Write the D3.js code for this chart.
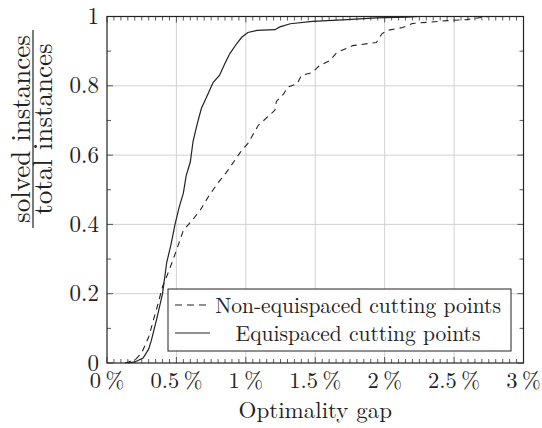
<!DOCTYPE html>
<html>
<head>
<meta charset="utf-8">
<script src="https://cdn.jsdelivr.net/npm/d3@7"></script>
<style>
  html, body { margin: 0; padding: 0; background: #fff; }
  svg { display: block; font-family: 'Latin Modern Roman', 'Liberation Serif', serif; }
  svg text { font-family: 'Latin Modern Roman', 'Liberation Serif', serif; }
</style>
</head>
<body>
<div id="chart"></div>
<script>
// ---- data ----
const xTickValues = [0, 0.5, 1, 1.5, 2, 2.5, 3];
const xTickLabels = ["0\u2009%", "0.5\u2009%", "1\u2009%", "1.5\u2009%", "2\u2009%", "2.5\u2009%", "3\u2009%"];
const yTickValues = [0, 0.2, 0.4, 0.6, 0.8, 1];
const yTickLabels = ["0", "0.2", "0.4", "0.6", "0.8", "1"];

const seriesNames = ["Non-equispaced cutting points", "Equispaced cutting points"];

const nonEquiGap = [0.13, 0.2, 0.25, 0.30, 0.36, 0.40, 0.45, 0.50, 0.55, 0.61, 0.67, 0.73, 0.765, 0.80, 0.86, 0.96, 1.015, 1.09, 1.17, 1.21, 1.22, 1.27, 1.30, 1.37, 1.40, 1.475, 1.53, 1.605, 1.655, 1.77, 1.94, 1.98, 2.02, 2.13, 2.2, 2.3, 2.45, 2.59, 2.64, 2.75];
const nonEquiFrac = [0, 0.008, 0.029, 0.075, 0.16, 0.22, 0.27, 0.325, 0.383, 0.41, 0.44, 0.48, 0.50, 0.52, 0.55, 0.608, 0.634, 0.686, 0.715, 0.73, 0.755, 0.775, 0.796, 0.806, 0.83, 0.838, 0.858, 0.873, 0.896, 0.916, 0.925, 0.95, 0.96, 0.968, 0.98, 0.983, 0.988, 0.991, 0.994, 1];

const equiGap = [0.15, 0.2, 0.26, 0.3, 0.32, 0.36, 0.40, 0.43, 0.46, 0.49, 0.52, 0.55, 0.57, 0.60, 0.62, 0.65, 0.68, 0.72, 0.765, 0.81, 0.85, 0.885, 0.935, 0.97, 1.015, 1.08, 1.21, 1.245, 1.32, 1.48, 1.73, 1.94, 2.16, 2.25];
const equiFrac = [0, 0.003, 0.014, 0.04, 0.066, 0.13, 0.2, 0.29, 0.34, 0.40, 0.45, 0.49, 0.54, 0.58, 0.64, 0.69, 0.735, 0.77, 0.81, 0.83, 0.865, 0.893, 0.922, 0.94, 0.954, 0.96, 0.962, 0.97, 0.979, 0.986, 0.991, 0.996, 0.998, 1];

// ---- layout ----
const FONT = "Latin Modern Roman, Liberation Serif, serif";
const W = 542, H = 428;
const margin = { left: 107, top: 16.5, right: 18.5, bottom: 65 };
const iw = W - margin.left - margin.right;
const ih = H - margin.top - margin.bottom;

const svg = d3.select("#chart").append("svg").attr("width", W).attr("height", H)
  .style("font-family", FONT);
const g = svg.append("g").attr("transform", `translate(${margin.left},${margin.top})`);

const x = d3.scaleLinear().domain([0, 3]).range([0, iw]);
const y = d3.scaleLinear().domain([0, 1]).range([ih, 0]);

// grid
g.append("g").selectAll("line").data(xTickValues.slice(1, -1)).join("line")
  .attr("x1", d => x(d)).attr("x2", d => x(d)).attr("y1", 0).attr("y2", ih)
  .attr("stroke", "#d2d2d2").attr("stroke-width", 1);
g.append("g").selectAll("line").data(yTickValues.slice(1, -1)).join("line")
  .attr("y1", d => y(d)).attr("y2", d => y(d)).attr("x1", 0).attr("x2", iw)
  .attr("stroke", "#d2d2d2").attr("stroke-width", 1);

// minor ticks
const xMinor = d3.range(0, 61).map(i => i * 0.05).filter(v => Math.abs(v * 2 - Math.round(v * 2)) > 1e-6);
const yMinor = [0.1, 0.3, 0.5, 0.7, 0.9];
const tickG = g.append("g").attr("stroke", "#333").attr("stroke-width", 0.8);
tickG.selectAll(".xmb").data(xMinor).join("line")
  .attr("x1", d => x(d)).attr("x2", d => x(d)).attr("y1", ih).attr("y2", ih - 4);
tickG.selectAll(".xmt").data(xMinor).join("line")
  .attr("x1", d => x(d)).attr("x2", d => x(d)).attr("y1", 0).attr("y2", 4);
tickG.selectAll(".yml").data(yMinor).join("line")
  .attr("y1", d => y(d)).attr("y2", d => y(d)).attr("x1", 0).attr("x2", 4);
tickG.selectAll(".ymr").data(yMinor).join("line")
  .attr("y1", d => y(d)).attr("y2", d => y(d)).attr("x1", iw).attr("x2", iw - 4);
// major ticks
tickG.selectAll(".xMb").data(xTickValues).join("line")
  .attr("x1", d => x(d)).attr("x2", d => x(d)).attr("y1", ih).attr("y2", ih - 6);
tickG.selectAll(".xMt").data(xTickValues).join("line")
  .attr("x1", d => x(d)).attr("x2", d => x(d)).attr("y1", 0).attr("y2", 6);
tickG.selectAll(".yMl").data(yTickValues).join("line")
  .attr("y1", d => y(d)).attr("y2", d => y(d)).attr("x1", 0).attr("x2", 6);
tickG.selectAll(".yMr").data(yTickValues).join("line")
  .attr("y1", d => y(d)).attr("y2", d => y(d)).attr("x1", iw).attr("x2", iw - 6);

// curves
const line = d3.line().x(d => x(d[0])).y(d => y(d[1])).curve(d3.curveLinear);
const nonData = nonEquiGap.map((v, i) => [v, nonEquiFrac[i]]);
const equiData = equiGap.map((v, i) => [v, equiFrac[i]]);

g.append("path").datum(nonData).attr("d", line)
  .attr("fill", "none").attr("stroke", "#222").attr("stroke-width", 1.1)
  .attr("stroke-dasharray", "6,5");
g.append("path").datum(equiData).attr("d", line)
  .attr("fill", "none").attr("stroke", "#222").attr("stroke-width", 1.2);

// frame
g.append("rect").attr("x", 0).attr("y", 0).attr("width", iw).attr("height", ih)
  .attr("fill", "none").attr("stroke", "#222").attr("stroke-width", 1.2);

// tick labels
g.append("g").selectAll("text").data(xTickValues).join("text")
  .attr("fill", "#222")
  .attr("x", d => x(d)).attr("y", ih + 25)
  .attr("text-anchor", "middle").attr("font-size", 22.5)
  .text((d, i) => xTickLabels[i]);
g.append("g").selectAll("text").data(yTickValues).join("text")
  .attr("fill", "#222")
  .attr("x", -8).attr("y", d => y(d) + 7.5)
  .attr("text-anchor", "end").attr("font-size", 23)
  .text((d, i) => yTickLabels[i]);

// axis labels
svg.append("text").attr("fill", "#222")
  .attr("x", margin.left + iw / 2).attr("y", 418)
  .attr("text-anchor", "middle").attr("font-size", 23)
  .text("Optimality gap");

const yl = svg.append("g").attr("transform", "translate(0,129) rotate(-90)");
yl.append("text").attr("fill", "#222")
  .attr("x", 0).attr("y", 29.5).attr("text-anchor", "middle")
  .attr("font-size", 27).text("solved instances");
yl.append("line").attr("x1", -99).attr("x2", 99).attr("y1", 33).attr("y2", 33)
  .attr("stroke", "#222").attr("stroke-width", 1.2);
yl.append("text").attr("fill", "#222")
  .attr("x", 0).attr("y", 52).attr("text-anchor", "middle")
  .attr("font-size", 27).text("total instances");

// legend
const lg = svg.append("g").attr("transform", "translate(168,289)");
lg.append("rect").attr("x", 0).attr("y", 0).attr("width", 343).attr("height", 62)
  .attr("fill", "#fff").attr("stroke", "#222").attr("stroke-width", 1);
lg.append("line").attr("x1", 7).attr("x2", 42).attr("y1", 16).attr("y2", 16)
  .attr("stroke", "#222").attr("stroke-width", 1.1).attr("stroke-dasharray", "7,5");
lg.append("line").attr("x1", 7).attr("x2", 42).attr("y1", 44).attr("y2", 44)
  .attr("stroke", "#222").attr("stroke-width", 1.2);
lg.append("text").attr("fill", "#222")
  .attr("x", 190).attr("y", 24).attr("text-anchor", "middle")
  .attr("font-size", 21.5).text(seriesNames[0]);
lg.append("text").attr("fill", "#222")
  .attr("x", 190).attr("y", 52).attr("text-anchor", "middle")
  .attr("font-size", 21.5).text(seriesNames[1]);
</script>
</body>
</html>
